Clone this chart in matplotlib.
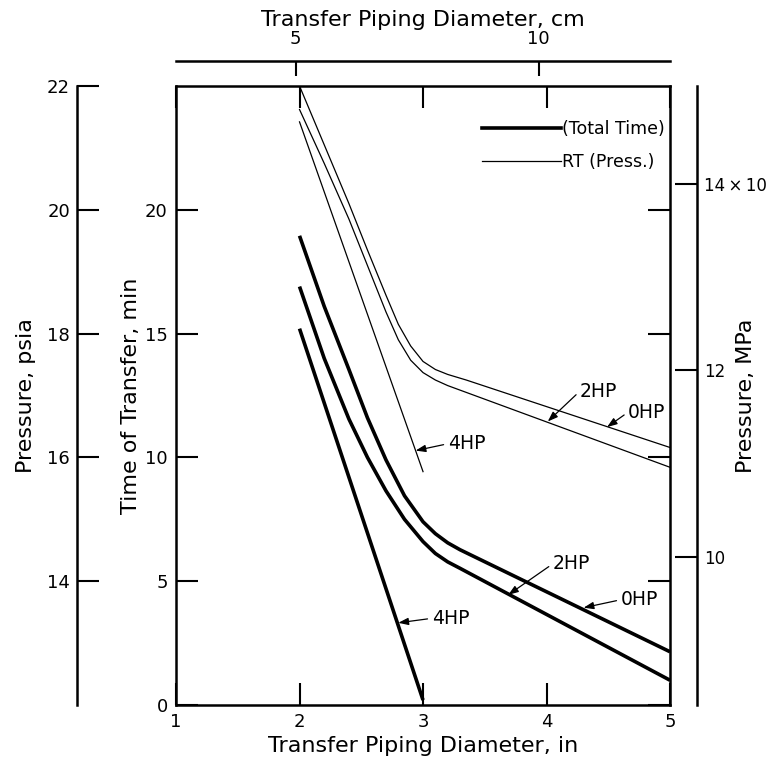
import matplotlib
matplotlib.use('Agg')
import matplotlib.pyplot as plt
from matplotlib.lines import Line2D

plt.rcParams['font.family'] = ['DejaVu Sans']

# ---- data: total time of transfer (min), thick lines ----
x_tt_0hp = [2.0, 2.2, 2.4, 2.55, 2.7, 2.85, 3.0, 3.1, 3.2, 3.3, 5.0]
t_tt_0hp = [18.95, 16.1, 13.55, 11.6, 9.9, 8.45, 7.4, 6.92, 6.55, 6.27, 2.15]
x_tt_2hp = [2.0, 2.2, 2.4, 2.55, 2.7, 2.85, 3.0, 3.1, 3.2, 3.3, 5.0]
t_tt_2hp = [16.9, 14.0, 11.55, 10.0, 8.65, 7.5, 6.6, 6.12, 5.78, 5.52, 1.0]
x_tt_4hp = [2.0, 3.0]
t_tt_4hp = [15.2, 0.2]

# ---- data: RT pressure (psia), thin lines ----
x_rt_0hp = [2.0, 2.2, 2.4, 2.55, 2.7, 2.8, 2.9, 3.0, 3.1, 3.2, 3.35, 5.0]
p_rt_0hp = [22.0, 21.05, 20.1, 19.35, 18.62, 18.15, 17.8, 17.55, 17.42, 17.34, 17.25, 16.16]
x_rt_2hp = [2.0, 2.2, 2.4, 2.55, 2.7, 2.8, 2.9, 3.0, 3.1, 3.2, 3.35, 5.0]
p_rt_2hp = [21.62, 20.75, 19.85, 19.1, 18.35, 17.9, 17.57, 17.37, 17.25, 17.16, 17.05, 15.84]
x_rt_4hp = [2.0, 3.0]
p_rt_4hp = [21.42, 15.77]

# ---- ticks ----
x_ticks = [1, 2, 3, 4, 5]
t_ticks = [0, 5, 10, 15, 20]
psia_ticks = [14, 16, 18, 20, 22]
mpa_ticks = [10, 12, 14]
mpa_labels = ['10', '12', '14\u2009×\u200910']
cm_ticks = [5, 10]
legend_labels = ['(Total Time)', 'RT (Press.)']

TICK_FS = 13
LAB_FS = 16
SPINE_W = 1.8
TICK_LEN = 16

fig = plt.figure(figsize=(7.73, 7.69), dpi=100)
ax = fig.add_axes([0.2277, 0.0832, 0.6391, 0.805])

# psia axis (thin lines are plotted here)
axp = ax.twinx()
axp.set_ylim(12, 22)
axp.yaxis.set_ticks_position('left')
axp.yaxis.set_label_position('left')
axp.spines['left'].set_position(('axes', -0.2004))
axp.spines['left'].set_visible(True)
for k in ['right', 'top', 'bottom']:
    axp.spines[k].set_visible(False)
axp.spines['left'].set_linewidth(SPINE_W)
axp.set_yticks(psia_ticks)
axp.tick_params(axis='y', direction='in', length=TICK_LEN, width=1.5,
                labelsize=TICK_FS, pad=5)
axp.set_ylabel('Pressure, psia', fontsize=LAB_FS)
axp.yaxis.set_label_coords(-0.283, 0.5)

# MPa axis
axm = ax.twinx()
axm.set_ylim(8.41, 15.05)
axm.spines['right'].set_position(('axes', 1.0547))
for k in ['left', 'top', 'bottom']:
    axm.spines[k].set_visible(False)
axm.spines['right'].set_linewidth(SPINE_W)
axm.set_yticks(mpa_ticks)
axm.set_yticklabels(mpa_labels)
axm.tick_params(axis='y', direction='in', length=TICK_LEN, width=1.5,
                labelsize=12, pad=5)
axm.set_ylabel('Pressure, MPa', fontsize=LAB_FS)
axm.yaxis.set_label_coords(1.133, 0.5)

# main axes
ax.set_xlim(1, 5)
ax.set_ylim(0, 25)
ax.set_xticks(x_ticks)
ax.set_yticks(t_ticks)
ax.tick_params(direction='in', length=TICK_LEN, width=1.5, top=True, right=True,
               labeltop=False, labelright=False, labelsize=TICK_FS, pad=6)
for s in ax.spines.values():
    s.set_linewidth(SPINE_W)
ax.set_ylabel('Time of Transfer, min', fontsize=LAB_FS)
ax.yaxis.set_label_coords(-0.07, 0.5)
ax.set_xlabel('Transfer Piping Diameter, in', fontsize=LAB_FS, labelpad=3)

# cm axis on top
secx = ax.secondary_xaxis(1.0404, functions=(lambda x: x * 2.54, lambda c: c / 2.54))
secx.set_xticks(cm_ticks)
secx.tick_params(direction='in', length=11, width=1.5, labelsize=TICK_FS, pad=9)
secx.spines['top'].set_linewidth(SPINE_W)
secx.set_xlabel('Transfer Piping Diameter, cm', fontsize=LAB_FS, labelpad=3)

# curves
THICK = 2.6
THIN = 0.9
ax.plot(x_tt_0hp, t_tt_0hp, color='black', lw=THICK, solid_capstyle='butt')
ax.plot(x_tt_2hp, t_tt_2hp, color='black', lw=THICK, solid_capstyle='butt')
ax.plot(x_tt_4hp, t_tt_4hp, color='black', lw=THICK, solid_capstyle='butt')
axp.plot(x_rt_0hp, p_rt_0hp, color='black', lw=THIN)
axp.plot(x_rt_2hp, p_rt_2hp, color='black', lw=THIN)
axp.plot(x_rt_4hp, p_rt_4hp, color='black', lw=THIN)

# legend
handles = [Line2D([], [], color='black', lw=THICK), Line2D([], [], color='black', lw=THIN)]
ax.legend(handles, legend_labels, loc='upper right', bbox_to_anchor=(0.99, 0.945),
          frameon=False, handlelength=4.6, handletextpad=0.05, fontsize=12.5,
          borderaxespad=0, borderpad=0, labelspacing=0.85)

# annotations
ap = dict(arrowstyle='-|>,head_length=0.5,head_width=0.18', color='black', lw=0.9,
          shrinkA=1, shrinkB=0, relpos=(0, 0.5), mutation_scale=12)
AFS = 13.5
ax.annotate('4HP', xy=(2.80, 3.32), xytext=(3.07, 3.5), ha='left', va='center',
            fontsize=AFS, arrowprops=ap)
ax.annotate('2HP', xy=(3.69, 4.45), xytext=(4.05, 5.7), ha='left', va='center',
            fontsize=AFS, arrowprops=ap)
ax.annotate('0HP', xy=(4.30, 3.93), xytext=(4.6, 4.25), ha='left', va='center',
            fontsize=AFS, arrowprops=ap)
axp.annotate('4HP', xy=(2.94, 16.11), xytext=(3.2, 16.22), ha='left', va='center',
             fontsize=AFS, arrowprops=ap)
axp.annotate('2HP', xy=(4.01, 16.58), xytext=(4.27, 17.07), ha='left', va='center',
             fontsize=AFS, arrowprops=ap)
axp.annotate('0HP', xy=(4.49, 16.49), xytext=(4.66, 16.73), ha='left', va='center',
             fontsize=AFS, arrowprops=ap)

fig.savefig('out.png', dpi=100)
